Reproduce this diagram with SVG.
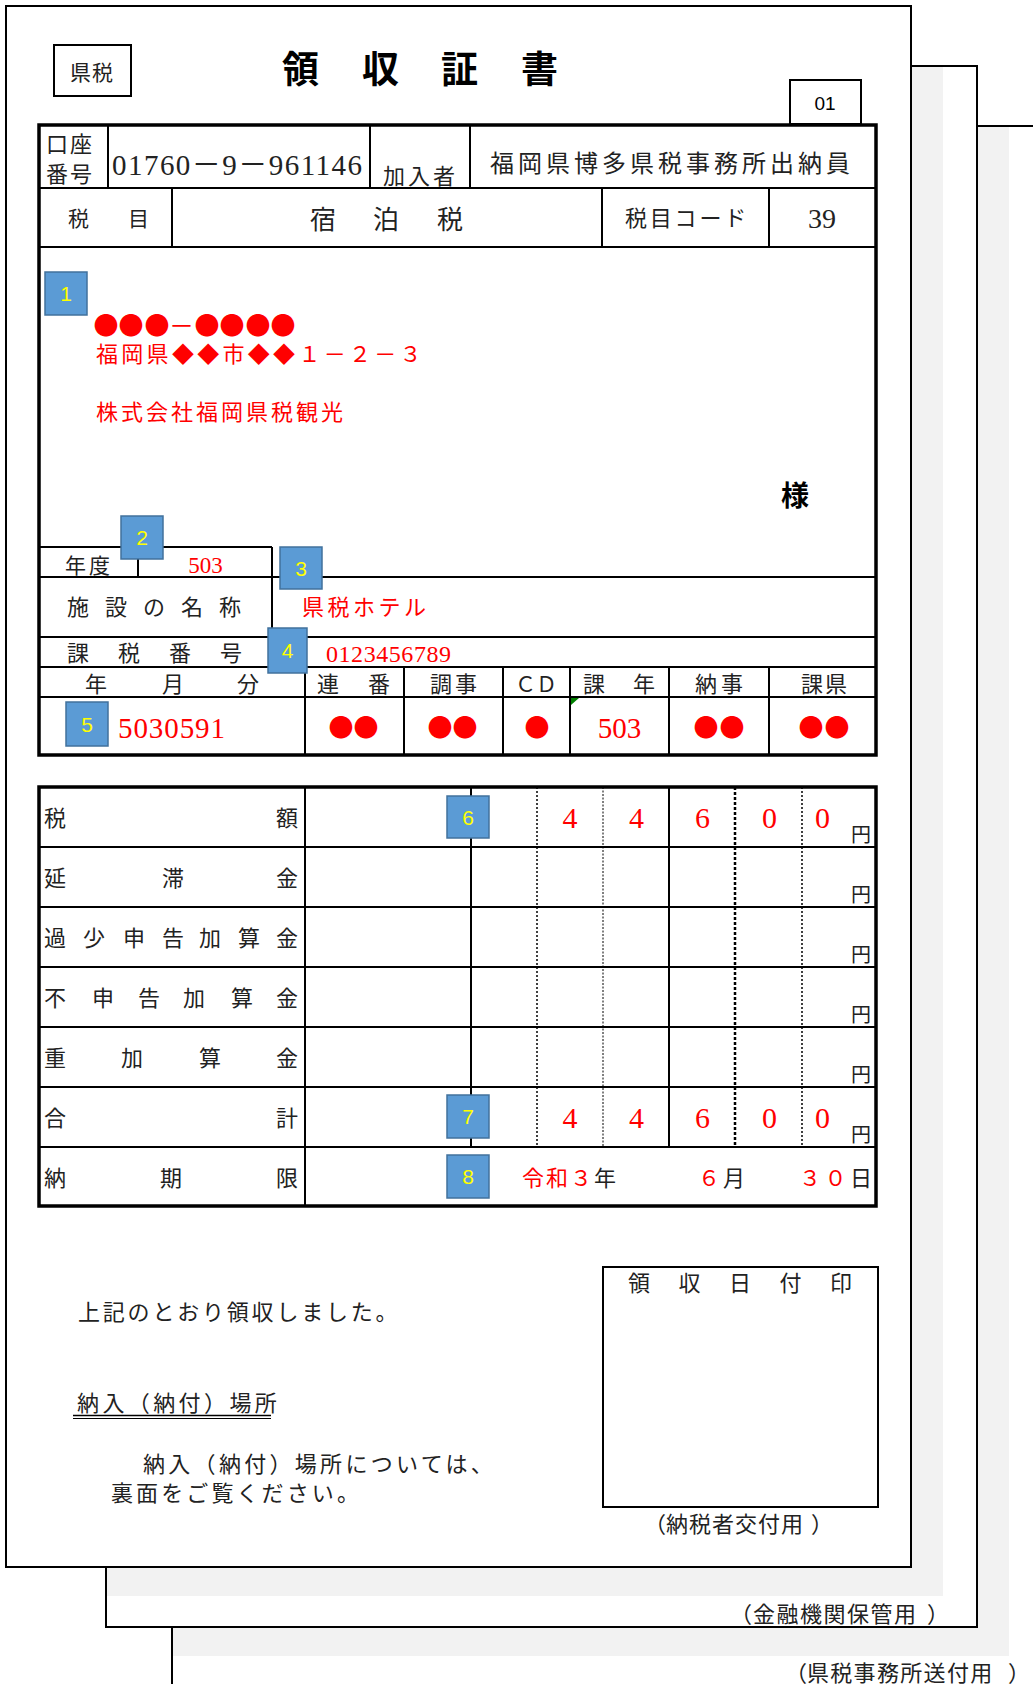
<svg xmlns="http://www.w3.org/2000/svg" width="1033" height="1684" viewBox="0 0 1033 1684" font-size="22">
<style>
.pg{fill:#fff;stroke:#000;stroke-width:2}
.sh{fill:#f2f2f2}
.ln{stroke:#000;stroke-width:2;fill:none}
.ol{stroke:#000;stroke-width:3.5;fill:none}
.j{font-family:'Noto Sans CJK JP',sans-serif;fill:#222}
.s{font-family:'Liberation Serif','Noto Sans CJK JP',serif;fill:#222}
.red{fill:#ff0000}
.bx rect{fill:#5b9bd5;stroke:#41719c;stroke-width:1.5}
.bx text{font-family:'Liberation Sans',sans-serif;font-size:21px;fill:#ffff00;text-anchor:middle}
.d1{stroke:#000;stroke-width:1.5;stroke-dasharray:2 2}
.d2{stroke:#000;stroke-width:1;stroke-dasharray:2 1.5}
.d3{stroke:#000;stroke-width:2.5;stroke-dasharray:3 2}
.mid{text-anchor:middle}
</style>
<rect x="0" y="0" width="1033" height="1684" fill="#fff"/>
<g id="page3">
<rect class="pg" x="172" y="126" width="920" height="1620"/>
<rect class="sh" x="173" y="127" width="836" height="1529"/>
<text class="j" x="785 807 830.3 853.6 877 900.3 923.6 947 970.3 1008" y="1681">（県税事務所送付用）</text>
</g>
<g id="page2">
<rect class="pg" x="106" y="66" width="871" height="1561"/>
<rect class="sh" x="107" y="67" width="836" height="1529"/>
<text class="j" x="730 753 776.5 800 823.5 847 870.5 894 927" y="1622">（金融機関保管用）</text>
</g>
<g id="page1">
<rect class="pg" x="6" y="6" width="905" height="1561"/>
</g>
<g id="header">
<rect class="ln" x="54" y="45" width="77" height="51" stroke-width="1.5"/>
<text class="j" x="70" y="80" font-size="21" letter-spacing="1">県税</text>
<text class="j" font-size="37" font-weight="bold" x="282 362 441 521" y="83" style="fill:#000">領収証書</text>
<rect class="ln" x="790" y="80" width="71" height="44" stroke-width="1.5"/>
<text x="825" y="110" font-family="'Liberation Sans',sans-serif" font-size="19" text-anchor="middle" fill="#000">01</text>
</g>
<g id="upper-table">
<rect class="ol" x="39" y="125" width="837" height="630"/>
<path class="ln" d="M39 188H876M39 247H876M39 547H272M39 577H876M39 637H876M39 667H876M39 697H876M108 125V188M370 125V188M470 125V188M172 188V247M602 188V247M769 188V247M138 547V577M272 547V637M305 667V755M404 667V755M503 667V755M570 667V755M669 667V755M769 667V755"/>
<polygon points="571,698 579,698 571,705" fill="#008000"/>
<text class="j" x="46" y="152" letter-spacing="2">口座</text>
<text class="j" x="46" y="182" letter-spacing="2">番号</text>
<text class="s" x="112" y="175" font-size="29" textLength="250" lengthAdjust="spacing">01760－9－961146</text>
<text class="j" x="383" y="184" letter-spacing="3">加入者</text>
<text class="j" x="490" y="172" font-size="24" letter-spacing="4">福岡県博多県税事務所出納員</text>
<text class="j" x="68 128" y="226" font-size="21">税目</text>
<text class="j" x="310 373 437" y="229" font-size="26">宿泊税</text>
<text class="j" x="625" y="226" letter-spacing="2.8">税目コード</text>
<text class="s mid" x="822" y="228" font-size="28">39</text>
<text class="j red" font-size="25" text-anchor="middle" x="106 131 157 181.5 207 232 258 283" y="335">●●●－●●●●</text>
<text class="j red" x="96" y="362" letter-spacing="3.3">福岡県◆◆市◆◆１－２－３</text>
<text class="j red" x="96" y="420" letter-spacing="3">株式会社福岡県税観光</text>
<text class="j" x="781" y="506" font-size="28" font-weight="bold" style="fill:#000">様</text>
<text class="j" x="65" y="573" font-size="21" letter-spacing="3">年度</text>
<text class="s red mid" x="205.5" y="573" font-size="23">503</text>
<text class="j" x="67" y="615" letter-spacing="16">施設の名称</text>
<text class="j red" x="302" y="615" letter-spacing="3.5">県税ホテル</text>
<text class="j" x="67" y="661" letter-spacing="29">課税番号</text>
<text class="s red" x="326" y="662" font-size="24" textLength="125" lengthAdjust="spacing">0123456789</text>
<text class="j" x="85 162 237" y="692">年月分</text>
<text class="j" x="317 368" y="692">連番</text>
<text class="j" x="430" y="692" letter-spacing="3">調事</text>
<text class="j" x="515" y="692" font-size="21">ＣＤ</text>
<text class="j" x="583 633" y="692">課年</text>
<text class="j" x="695" y="692" letter-spacing="4">納事</text>
<text class="j" x="801" y="692" letter-spacing="2">課県</text>
<text class="s red" x="118" y="738" font-size="29" textLength="107" lengthAdjust="spacing">5030591</text>
<text class="j red" font-size="25" text-anchor="middle" x="341 366 440 465 537 706 732 811 837" y="737">●●●●●●●●●</text>
<text class="s red mid" x="619.5" y="738" font-size="29">503</text>
</g>
<g id="lower-table">
<rect class="ol" x="39" y="787" width="837" height="419"/>
<path class="ln" d="M39 847H876M39 907H876M39 967H876M39 1027H876M39 1087H876M39 1147H876M305 787V1206M471 787V1147M669 787V1147"/>
<path class="d1" d="M537 787V1147M802 787V1147"/>
<path class="d2" d="M603 787V1147"/>
<path class="d3" d="M735 787V1147"/>
<text class="j" x="44 276" y="826">税額</text>
<text class="j" x="44 162 276" y="886">延滞金</text>
<text class="j" x="44 83 123 162 199 238 276" y="946">過少申告加算金</text>
<text class="j" x="44 92 138 183 231 276" y="1006">不申告加算金</text>
<text class="j" x="44 121 199 276" y="1066">重加算金</text>
<text class="j" x="44 276" y="1126">合計</text>
<text class="j" x="44 160 276" y="1186">納期限</text>
<text class="s red" font-size="30" text-anchor="middle" x="570 636.5 702.5 769.5 822.5" y="828">44600</text>
<text class="s red" font-size="30" text-anchor="middle" x="570 636.5 702.5 769.5 822.5" y="1128">44600</text>
<g class="j" font-size="20">
<text x="851" y="842">円</text><text x="851" y="902">円</text><text x="851" y="962">円</text><text x="851" y="1022">円</text><text x="851" y="1082">円</text><text x="851" y="1142">円</text>
</g>
<text class="j" x="522" y="1186" letter-spacing="2"><tspan class="red">令和３</tspan>年</text>
<text class="j" x="698" y="1186" letter-spacing="3"><tspan class="red">６</tspan>月</text>
<text class="j" x="799" y="1186" letter-spacing="3.5"><tspan class="red">３０</tspan>日</text>
</g>
<g id="markers">
<g id="m1" class="bx"><rect x="45" y="272" width="42" height="43"/><text x="66" y="301">1</text></g>
<g id="m2" class="bx"><rect x="121" y="516" width="42" height="43"/><text x="142" y="545">2</text></g>
<g id="m3" class="bx"><rect x="280" y="547" width="42" height="42"/><text x="301" y="576">3</text></g>
<g id="m4" class="bx"><rect x="268" y="628" width="39" height="45"/><text x="287.5" y="658">4</text></g>
<g id="m5" class="bx"><rect x="66" y="702" width="42" height="44"/><text x="87" y="732">5</text></g>
<g id="m6" class="bx"><rect x="447" y="796" width="42" height="42"/><text x="468" y="825">6</text></g>
<g id="m7" class="bx"><rect x="447" y="1095" width="42" height="43"/><text x="468" y="1124">7</text></g>
<g id="m8" class="bx"><rect x="447" y="1155" width="42" height="43"/><text x="468" y="1184">8</text></g>
</g>
<g id="footer">
<text class="j" x="78" y="1320" letter-spacing="2.8">上記のとおり領収しました。</text>
<text class="j" x="77" y="1411" letter-spacing="3.4">納入（納付）場所</text>
<path d="M73 1415.5H271" stroke="#000" stroke-width="1.6"/>
<path d="M73 1418.5H271" stroke="#000" stroke-width="1.2"/>
<text class="j" x="143" y="1472" letter-spacing="3.3">納入（納付）場所については、</text>
<text class="j" x="111" y="1501" letter-spacing="3.1">裏面をご覧ください。</text>
</g>
<g id="stamp">
<rect class="ln" x="603" y="1267" width="275" height="240"/>
<text class="j" x="628 678.5 729 779.5 830" y="1291">領収日付印</text>
<text class="j" x="644 666 689 712 735 758 781 811" y="1532">（納税者交付用）</text>
</g>
<g id="connectors"/>
</svg>
